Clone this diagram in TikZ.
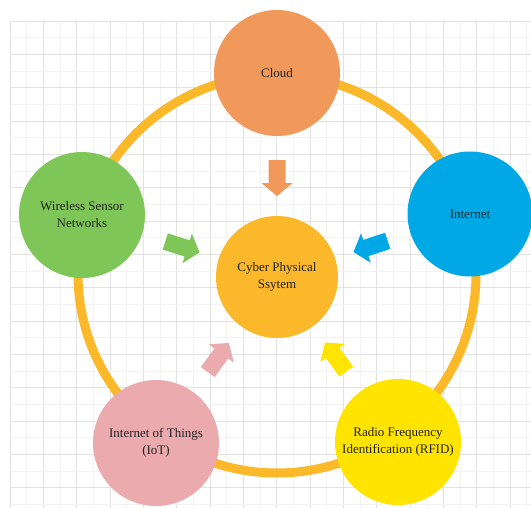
\documentclass[tikz,border=0pt]{standalone}
\usepackage{fontspec}
\setmainfont{Liberation Serif}
\usetikzlibrary{calc}

\definecolor{cloudc}{HTML}{F0995A}
\definecolor{netc}{HTML}{00A9E6}
\definecolor{wsnc}{HTML}{7DC657}
\definecolor{iotc}{HTML}{EBAAAE}
\definecolor{rfidc}{HTML}{FFE400}
\definecolor{cpsc}{HTML}{FBB82B}
\definecolor{ringc}{HTML}{FBB829}
\definecolor{txtc}{HTML}{222222}
\definecolor{gridminor}{HTML}{F2F2F2}
\definecolor{gridmajor}{HTML}{E2E2E2}

\tikzset{
  hub/.style={circle, inner sep=0pt, align=center, text=txtc,
    font=\fontsize{13}{17}\selectfont},
  blockarrow/.pic={
    \fill[#1] (-18,-8.5) -- (5,-8.5) -- (5,-15.5) -- (18,0)
      -- (5,15.5) -- (5,8.5) -- (-18,8.5) -- cycle;
  },
}

\begin{document}
\begin{tikzpicture}[x=1pt,y=-1pt]
  % page and squared paper
  \fill[white] (0,0) rectangle (531,508);
  \useasboundingbox (0,0) rectangle (531,508);
  \foreach \k in {0,...,31} {
    \pgfmathsetmacro{\xx}{10+16.667*\k}
    \ifodd\k
      \draw[gridminor, line width=0.8pt] (\xx,21) -- (\xx,508);
    \else
      \draw[gridmajor, line width=0.8pt] (\xx,21) -- (\xx,508);
    \fi
  }
  \foreach \k in {0,...,29} {
    \pgfmathsetmacro{\yy}{21+16.667*\k}
    \ifodd\k
      \draw[gridminor, line width=0.8pt] (10,\yy) -- (531,\yy);
    \else
      \draw[gridmajor, line width=0.8pt] (10,\yy) -- (531,\yy);
    \fi
  }

  % ring linking the outer technologies
  \coordinate (ringcentre) at (277,274);
  \draw[ringc, line width=9pt] (ringcentre) circle[radius=199];

  % hub and outer nodes
  \node[hub, fill=cpsc, minimum size=122pt] (cps) at (277,277) {Cyber Physical\\Ssytem};
  \node[hub, fill=cloudc, minimum size=126pt] (cloud) at (277,73) {Cloud};
  \node[hub, fill=netc, minimum size=125pt] (net) at (470,214) {Internet};
  \node[hub, fill=wsnc, minimum size=126pt] (wsn) at (82,215) {Wireless Sensor\\Networks};
  \node[hub, fill=iotc, minimum size=126pt] (iot) at (156,443) {Internet of Things\\(IoT)};
  \node[hub, fill=rfidc, minimum size=126pt] (rfid) at (398,442) {Radio Frequency\\Identification (RFID)};

  % block arrows pointing into the hub
  \path (cloud.center) -- (cps.center) pic[pos=0.515, sloped, allow upside down] {blockarrow=cloudc};
  \path (net.center) -- (cps.center) pic[pos=0.515, sloped, allow upside down] {blockarrow=netc};
  \path (wsn.center) -- (cps.center) pic[pos=0.515, sloped, allow upside down] {blockarrow=wsnc};
  \path (iot.center) -- (cps.center) pic[pos=0.515, sloped, allow upside down] {blockarrow=iotc};
  \path (rfid.center) -- (cps.center) pic[pos=0.515, sloped, allow upside down] {blockarrow=rfidc};
\end{tikzpicture}
\end{document}
